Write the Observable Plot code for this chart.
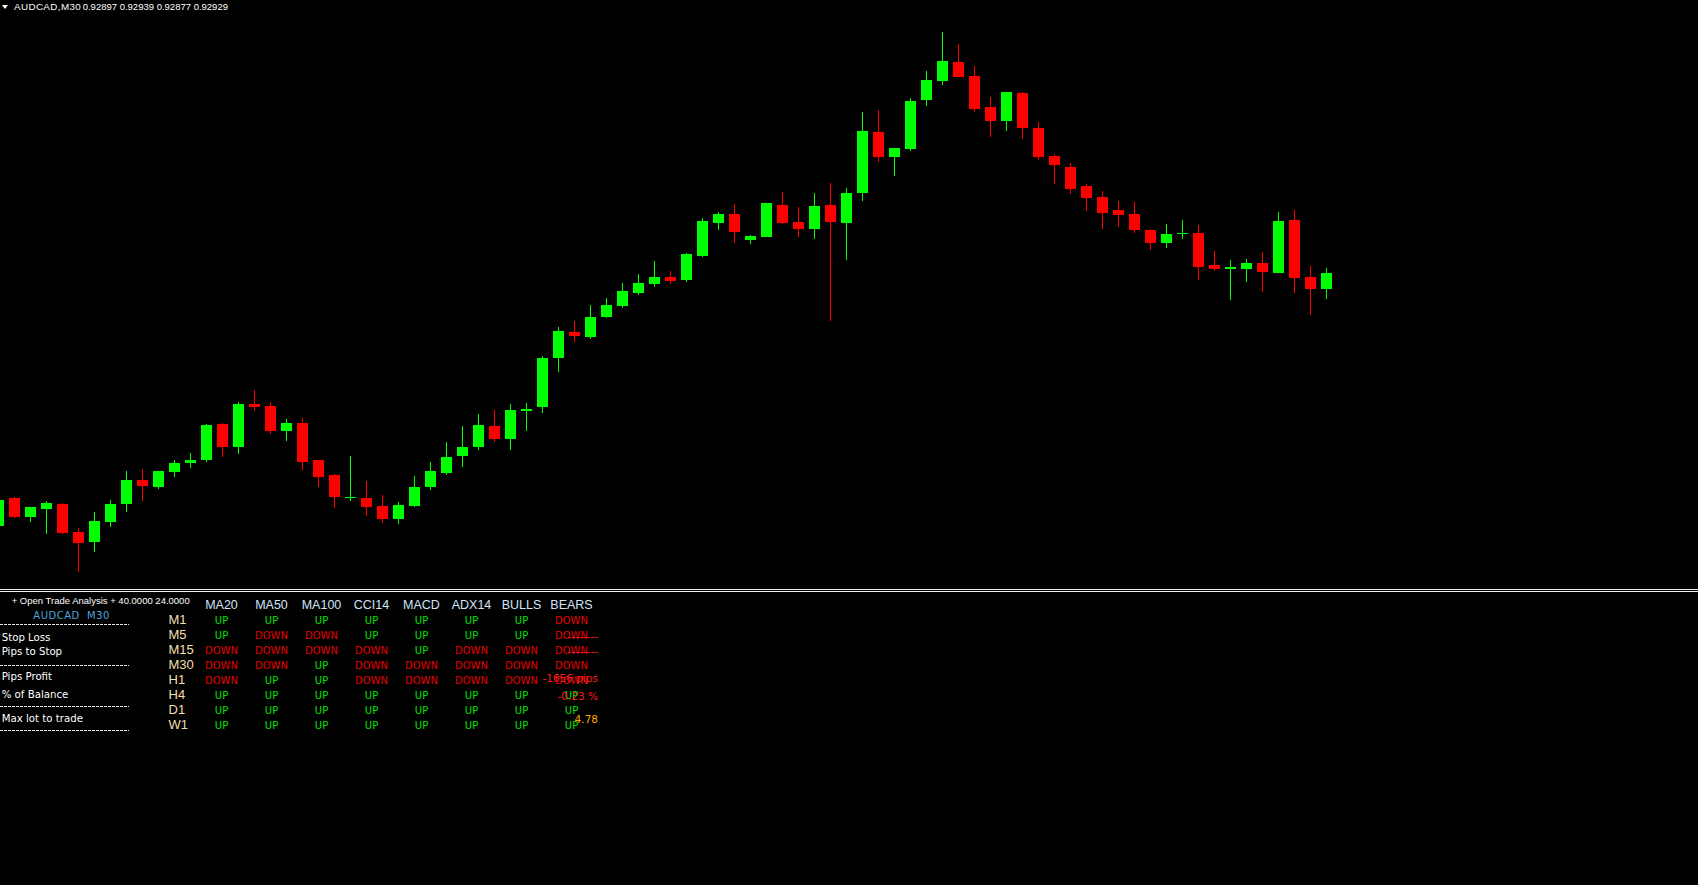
<!DOCTYPE html>
<html>
<head>
<meta charset="utf-8">
<script src="https://cdn.jsdelivr.net/npm/d3@7"></script>
<script src="https://cdn.jsdelivr.net/npm/@observablehq/plot@0.6"></script>
<style>
html, body { margin: 0; padding: 0; background: #000; }
#root { position: relative; width: 1698px; height: 885px; overflow: hidden; background: #000; }
.abs { position: absolute; white-space: pre; line-height: 0; }
.dash { position: absolute; left: 0; width: 129px; height: 1px;
  background: repeating-linear-gradient(to right, #e6e6e6 0 3px, transparent 3px 4px); }
.sep { position: absolute; left: 0; width: 1698px; height: 1px; background: #f0f0f0; }
</style>
</head>
<body>
<div id="root"></div>
<script>
// ---------- data ----------
const symbol = "AUDCAD";
const timeframe = "M30";

const open = [0.92423,0.92479,0.92442,0.92458,0.92467,0.92411,0.92392,0.92432,0.92468,0.92515,
0.92502,0.92532,0.92550,0.92556,0.92627,0.92582,0.92667,0.92663,0.92614,0.92629,
0.92555,0.92525,0.92480,0.92480,0.92463,0.92438,0.92464,0.92501,0.92530,0.92564,
0.92582,0.92623,0.92598,0.92653,0.92662,0.92760,0.92811,0.92802,0.92842,0.92864,
0.92890,0.92908,0.92921,0.92916,0.92964,0.93030,0.93047,0.92996,0.93002,0.93065,
0.93031,0.93018,0.93065,0.93030,0.93090,0.93211,0.93162,0.93178,0.93276,0.93314,
0.93351,0.93323,0.93261,0.93234,0.93289,0.93219,0.93163,0.93141,0.93103,0.93081,
0.93055,0.93047,0.93015,0.92990,0.93008,0.93009,0.92945,0.92938,0.92938,0.92949,
0.92930,0.93035,0.92921,0.92897];

const high = [0.92475,0.92481,0.92461,0.92473,0.92469,0.92419,0.92451,0.92475,0.92533,0.92537,
0.92533,0.92555,0.92569,0.92627,0.92629,0.92671,0.92695,0.92671,0.92637,0.92639,
0.92555,0.92527,0.92563,0.92513,0.92485,0.92471,0.92523,0.92551,0.92591,0.92623,
0.92647,0.92655,0.92667,0.92669,0.92763,0.92821,0.92833,0.92865,0.92879,0.92909,
0.92927,0.92953,0.92933,0.92969,0.93039,0.93051,0.93067,0.93005,0.93069,0.93091,
0.93061,0.93089,0.93109,0.93099,0.93251,0.93255,0.93179,0.93279,0.93333,0.93411,
0.93387,0.93343,0.93281,0.93291,0.93291,0.93231,0.93167,0.93149,0.93107,0.93093,
0.93073,0.93071,0.93017,0.93027,0.93035,0.93025,0.92973,0.92955,0.92957,0.92971,
0.93051,0.93055,0.92943,0.92939];

const low = [0.92423,0.92440,0.92432,0.92408,0.92408,0.92332,0.92372,0.92422,0.92452,0.92474,
0.92498,0.92522,0.92540,0.92552,0.92562,0.92568,0.92654,0.92608,0.92594,0.92536,
0.92502,0.92460,0.92474,0.92444,0.92429,0.92428,0.92462,0.92496,0.92526,0.92542,
0.92576,0.92592,0.92576,0.92614,0.92650,0.92732,0.92792,0.92798,0.92840,0.92860,
0.92886,0.92902,0.92908,0.92912,0.92962,0.93016,0.92990,0.92988,0.93002,0.93028,
0.93002,0.92998,0.92834,0.92956,0.93074,0.93152,0.93124,0.93174,0.93264,0.93306,
0.93322,0.93252,0.93202,0.93214,0.93198,0.93156,0.93108,0.93088,0.93054,0.93018,
0.93022,0.93010,0.92976,0.92980,0.92998,0.92916,0.92934,0.92876,0.92912,0.92892,
0.92930,0.92890,0.92846,0.92877];

const close = [0.92475,0.92442,0.92461,0.92469,0.92410,0.92390,0.92433,0.92467,0.92515,0.92504,
0.92533,0.92549,0.92555,0.92625,0.92582,0.92667,0.92662,0.92614,0.92629,0.92552,
0.92522,0.92482,0.92482,0.92462,0.92438,0.92465,0.92501,0.92533,0.92561,0.92581,
0.92625,0.92598,0.92655,0.92657,0.92759,0.92813,0.92804,0.92841,0.92865,0.92893,
0.92909,0.92921,0.92914,0.92967,0.93033,0.93047,0.93012,0.93003,0.93069,0.93030,
0.93018,0.93063,0.93032,0.93089,0.93213,0.93162,0.93179,0.93273,0.93315,0.93353,
0.93322,0.93258,0.93234,0.93291,0.93220,0.93162,0.93146,0.93098,0.93080,0.93050,
0.93046,0.93016,0.92990,0.93007,0.93010,0.92942,0.92938,0.92941,0.92949,0.92932,
0.93033,0.92920,0.92898,0.92929];

const indicators = ["MA20","MA50","MA100","CCI14","MACD","ADX14","BULLS","BEARS"];
const timeframes = ["M1","M5","M15","M30","H1","H4","D1","W1"];
const signalRows = [
  ["UP","UP","UP","UP","UP","UP","UP","DOWN"],
  ["UP","DOWN","DOWN","UP","UP","UP","UP","DOWN"],
  ["DOWN","DOWN","DOWN","DOWN","UP","DOWN","DOWN","DOWN"],
  ["DOWN","DOWN","UP","DOWN","DOWN","DOWN","DOWN","DOWN"],
  ["DOWN","UP","UP","DOWN","DOWN","DOWN","DOWN","DOWN"],
  ["UP","UP","UP","UP","UP","UP","UP","UP"],
  ["UP","UP","UP","UP","UP","UP","UP","UP"],
  ["UP","UP","UP","UP","UP","UP","UP","UP"]
];

const panelTitle = "+ Open Trade Analysis + 40.0000 24.0000";
const infoLabels = ["Stop Loss","Pips to Stop","Pips Profit","% of Balance","Max lot to trade"];
const infoValues = ["--------","--------","-1656 pips","-0.23 %","4.78"];
const infoValueColors = ["#ff1a1a","#ff1a1a","#ff1a1a","#ff1a1a","#ffa500"];

// ---------- layout / style ----------
const W = 1698, H = 885, chartH = 588;
const bull = "#00ff00", bear = "#ff0000";
const upCol = "#00e400", downCol = "#e80000";
const root = document.getElementById("root");

function addText(txt, {left, right, baseline, size, family, color, spacing = 0}) {
  const d = document.createElement("div");
  d.className = "abs";
  d.textContent = txt;
  d.style.fontSize = size + "px";
  d.style.fontFamily = family;
  d.style.color = color;
  d.style.letterSpacing = spacing + "px";
  d.style.top = (baseline - 0.346 * size) + "px";
  if (right !== undefined) d.style.right = (W - right) + "px";
  else d.style.left = left + "px";
  root.appendChild(d);
  return d;
}

// ---------- candlestick chart ----------
const bars = open.map((o, i) => ({i, open: o, high: high[i], low: low[i], close: close[i],
  dir: close[i] >= o ? "up" : "down"}));
const halfBody = 0.34375;

const chart = Plot.plot({
  width: W, height: chartH,
  margin: 0,
  style: {background: "#000", shapeRendering: "crispEdges", overflow: "hidden"},
  x: {type: "linear", domain: [0.09375, 106.21875], axis: null},
  y: {type: "linear", domain: [0.92299, 0.93475], axis: null},
  color: {domain: ["up", "down"], range: [bull, bear]},
  marks: [
    Plot.ruleX(bars, {x: "i", y1: "low", y2: "high", stroke: "dir", strokeWidth: 1, dx: -0.5, clip: true}),
    Plot.rect(bars, {x1: d => d.i - halfBody, x2: d => d.i + halfBody, y1: "open", y2: "close", fill: "dir", clip: true})
  ]
});
chart.style.position = "absolute";
chart.style.left = "0px";
chart.style.top = "0px";
root.appendChild(chart);

// chart header
const tri = document.createElement("div");
tri.style.cssText = "position:absolute;left:1.5px;top:4.5px;width:0;height:0;border-left:3px solid transparent;border-right:3px solid transparent;border-top:4px solid #fff;";
root.appendChild(tri);
const last = open.length - 1;
const fmt = v => v.toFixed(5);
addText(`${symbol},${timeframe}`, {left: 14, baseline: 10, size: 9.8, family: "'Liberation Sans', Arial, sans-serif", color: "#fff", spacing: 0.4});
addText(`${fmt(open[last])} ${fmt(high[last])} ${fmt(low[last])} ${fmt(close[last])}`,
  {left: 82.7, baseline: 10, size: 9.5, family: "'Liberation Sans', Arial, sans-serif", color: "#fff"});

// ---------- indicator panel ----------
const cells = [];
timeframes.forEach((tf, r) => indicators.forEach((ind, c) => cells.push({tf, ind, v: signalRows[r][c]})));
const HDR = "hdr";

const panel = Plot.plot({
  width: W, height: H - chartH,
  margin: 0,
  style: {background: "transparent", overflow: "visible"},
  x: {type: "point", domain: indicators, range: [221, 571], padding: 0, axis: null},
  y: {type: "point", domain: [HDR, ...timeframes], range: [20, 140], padding: 0, axis: null},
  color: {domain: ["UP", "DOWN"], range: [upCol, downCol]},
  marks: [
    Plot.text(indicators, {x: d => d, y: () => HDR, text: d => d, fill: "#d2e6fa",
      fontSize: 12.5, fontFamily: "'Liberation Sans', Arial, sans-serif", lineAnchor: "bottom"}),
    Plot.text(timeframes, {y: d => d, text: d => d, frameAnchor: "left", dx: 168, textAnchor: "start",
      fill: "#f2dfb0", fontSize: 13, fontFamily: "'Liberation Sans', Arial, sans-serif", lineAnchor: "bottom"}),
    Plot.text(cells, {x: "ind", y: "tf", text: "v", fill: "v",
      fontSize: 10, fontFamily: "'DejaVu Sans', Verdana, sans-serif", lineAnchor: "bottom"})
  ]
});
panel.style.position = "absolute";
panel.style.left = "0px";
panel.style.top = chartH + "px";
root.appendChild(panel);

// separators
[589, 591].forEach(t => { const s = document.createElement("div"); s.className = "sep"; s.style.top = t + "px"; root.appendChild(s); });

// left info panel
addText(panelTitle, {left: 11.7, baseline: 604.3, size: 9.5, family: "'Liberation Sans', Arial, sans-serif", color: "#fff"});
addText(`${symbol}  ${timeframe}`, {left: 33.3, baseline: 619.3, size: 10, family: "'DejaVu Sans', Verdana, sans-serif", color: "#4fa3dc", spacing: 0.5});
[624, 665, 706, 730].forEach(t => { const d = document.createElement("div"); d.className = "dash"; d.style.top = t + "px"; root.appendChild(d); });
const labelBase = [641.7, 655.7, 681, 699, 723];
const valueBase = [640, 655, 681.5, 699.5, 723];
infoLabels.forEach((l, k) => addText(l, {left: 1.7, baseline: labelBase[k], size: 10.2, family: "'DejaVu Sans', Verdana, sans-serif", color: "#fff"}));
infoValues.forEach((v, k) => addText(v, {right: 598, baseline: valueBase[k], size: 10.5, family: "'DejaVu Sans', Verdana, sans-serif", color: infoValueColors[k]}));
</script>
</body>
</html>
